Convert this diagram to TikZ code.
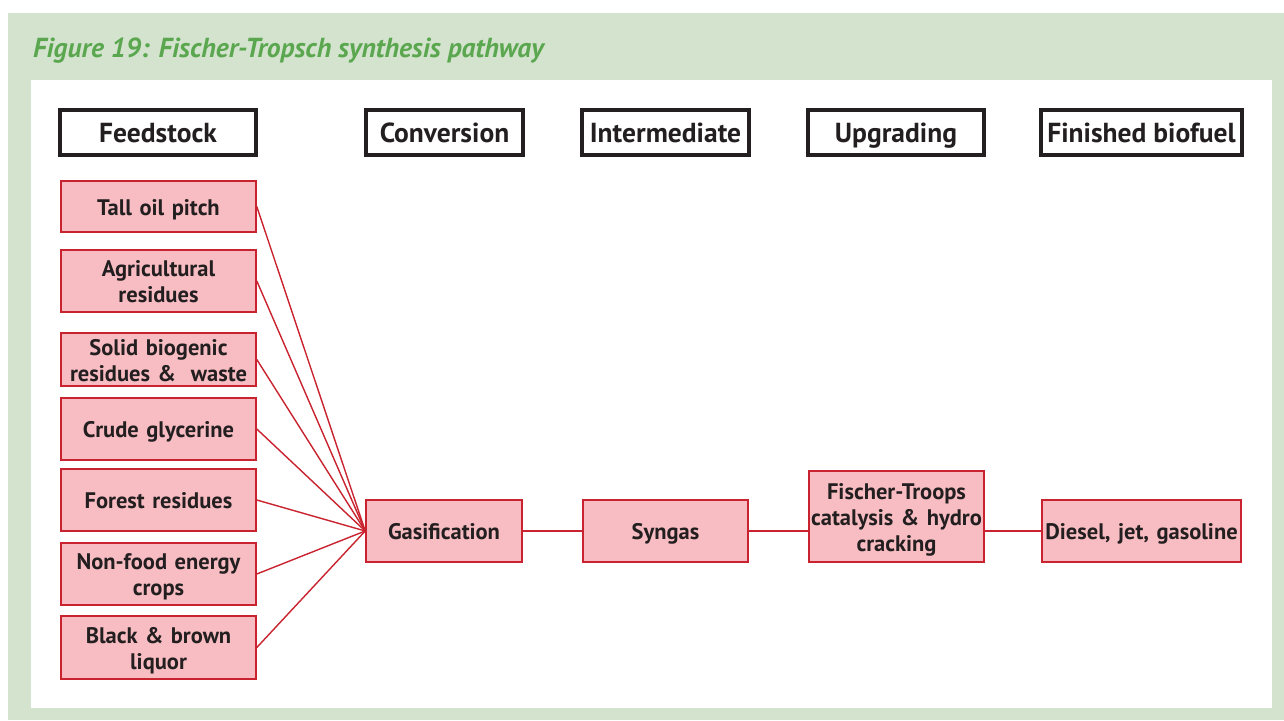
\documentclass[tikz,border=0pt]{standalone}
\usepackage{fontspec}
\setmainfont{PT Sans}
\definecolor{bggreen}{HTML}{D4E3CE}
\definecolor{titlegreen}{HTML}{5AA74F}
\definecolor{pinkfill}{HTML}{F8BDC2}
\definecolor{redline}{HTML}{C9232F}
\definecolor{darktext}{HTML}{231F20}
\begin{document}
\begin{tikzpicture}[x=1pt,y=-1pt,
  head/.style={draw=darktext,line width=3.5pt,fill=white,minimum height=45pt,inner sep=0pt,
    text height=22pt,text depth=3pt,
    font=\fontsize{27.5}{30}\selectfont\bfseries,text=darktext},
  feed/.style={draw=redline,line width=1.6pt,fill=pinkfill,minimum width=195pt,inner sep=0pt,
    text width=193pt,align=center,text height=17pt,text depth=0pt,
    font=\fontsize{22.5}{26}\selectfont\bfseries,text=darktext},
  twolines/.style={text depth=26pt},
  threelines/.style={text depth=52pt},
  proc/.style={feed},
  link/.style={draw=redline,line width=1.4pt}]
\useasboundingbox (0,0) rectangle (1284,720);
\fill[white] (0,0) rectangle (1284,720);
\fill[bggreen] (8,13) rectangle (1284,720);
\fill[white] (31,80) rectangle (1272,708);
\node[anchor=base west,text=titlegreen,inner sep=0pt,font=\fontsize{27.5}{32}\selectfont\itshape\bfseries] (title) at (33,57) {Figure 19: Fischer-Tropsch synthesis pathway};
% headers
\node[head,minimum width=196pt] (hfeed) at (158,132.5) {Feedstock};
\node[head,minimum width=157pt] (hconv) at (444.5,132.5) {Conversion};
\node[head,minimum width=167pt] (hint) at (665.5,132.5) {Intermediate};
\node[head,minimum width=176pt] (hupg) at (896,132.5) {Upgrading};
\node[head,minimum width=201pt] (hfin) at (1141.5,132.5) {Finished biofuel};
% feedstock
\node[feed,minimum height=51pt] (f1) at (158.5,206.5) {Tall oil pitch};
\node[feed,twolines,minimum height=62pt] (f2) at (158.5,281) {Agricultural\\residues};
\node[feed,twolines,minimum height=53pt] (f3) at (158.5,359.5) {Solid biogenic\\residues \&\ \ waste};
\node[feed,minimum height=62pt] (f4) at (158.5,429) {Crude glycerine};
\node[feed,minimum height=62pt] (f5) at (158.5,500) {Forest residues};
\node[feed,twolines,minimum height=62pt] (f6) at (158.5,574) {Non-food energy\\crops};
\node[feed,twolines,minimum height=63pt] (f7) at (158.5,647.5) {Black \& brown\\liquor};
% process
\node[proc,minimum width=156pt,text width=154pt,minimum height=62pt] (gas) at (444,531) {Gasification};
\node[proc,minimum width=165pt,text width=163pt,minimum height=62pt] (syn) at (665.5,531) {Syngas};
\node[proc,threelines,minimum width=175pt,text width=174pt,minimum height=91pt] (ft) at (896.5,516.5) {Fischer-Troops\\catalysis \& hydro\\cracking};
\node[proc,minimum width=199pt,text width=198pt,minimum height=62pt] (dies) at (1141.5,531) {Diesel, jet, gasoline};
% connectors
\foreach \f in {f1,f2,f3,f4,f5,f6,f7} \draw[link] (\f.east) -- (gas.west);
\draw[link] (gas.east) -- (syn.west);
\draw[link] (syn.east) -- (syn.east -| ft.west);
\draw[link] (ft.east |- dies.west) -- (dies.west);
\end{tikzpicture}
\end{document}
